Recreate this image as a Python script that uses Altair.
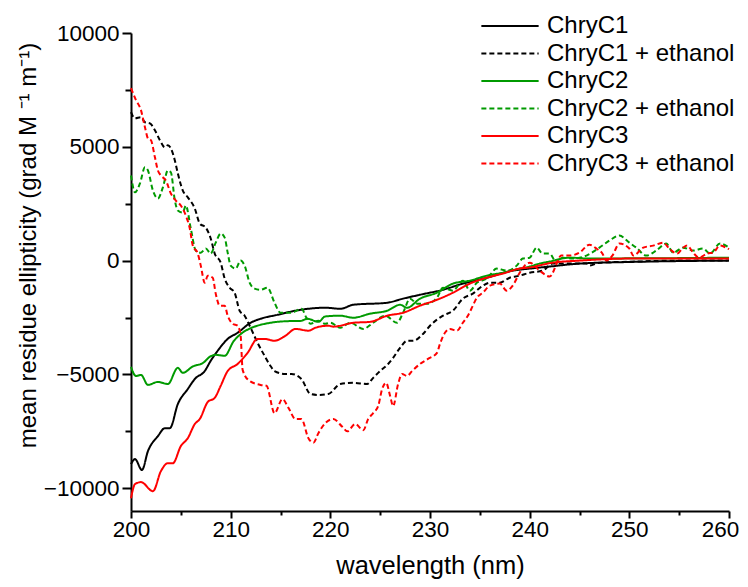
import altair as alt
import pandas as pd

# ---- data ----
series_names = ["ChryC1", "ChryC1 + ethanol", "ChryC2", "ChryC2 + ethanol", "ChryC3", "ChryC3 + ethanol"]
series_colors = ["#000000", "#000000", "#009a00", "#009a00", "#ff0000", "#ff0000"]
series_dashes = [[1, 0], [5, 3], [1, 0], [5, 3], [1, 0], [5, 3]]

c1_wl = [200, 200.4, 201.1, 201.7, 202.7, 203.4, 203.9, 204.7, 205.7, 206.4, 207.4, 208, 208.7, 209.7, 210.7,
         212, 213, 214.7, 216.5, 217.8, 219.5, 221, 222.3, 225.7, 227.3, 229, 231.3, 233.3, 235.7, 238.3, 240,
         242, 245, 250, 255, 260]
c1_val = [-8940, -8720, -9200, -8370, -7710, -7360, -7360, -6300, -5640, -5200, -4850, -4400, -3960, -3440, -3170,
          -2730, -2555, -2380, -2200, -2115, -2070, -2115, -1940, -1850, -1670, -1500, -1280, -1010, -750, -440, -350,
          -260, -130, -60, -20, 0]

c1e_wl = [200, 200.4, 201, 201.4, 201.9, 202.4, 202.9, 203.4, 203.7, 204, 204.4, 204.7, 205.2, 205.7, 206.4, 206.9,
          207.5, 208, 208.4, 209, 209.4, 209.9, 210.4, 210.9, 211.4, 212, 212.7, 213.4, 214, 214.4, 215.5, 216.1,
          217.1, 218, 218.8, 219.8, 221, 222.3, 223.7, 224.3, 225, 225.8, 226.3, 227, 227.7, 228.3, 229.3, 230,
          231.3, 232.3, 233.3, 234.3, 235.3, 236, 237, 238, 239, 240, 241.3, 242.3, 244, 245.7, 246, 247, 250,
          255, 260]
c1e_val = [6520, 6250, 6300, 6080, 6030, 5730, 5290, 4980, 5070, 4930, 4400, 3830, 3080, 2780, 2290, 1630,
           1450, 970, 310, -90, -790, -1190, -1410, -2200, -2420, -2950, -3610, -4180, -4630, -4850, -4980, -4980,
           -5200, -5860, -5900, -5860, -5420, -5370, -5420, -5150, -4850, -4540, -4270, -3830, -3520, -3520, -3220, -2860,
           -2420, -2200, -1670, -1450, -1100, -970, -970, -750, -660, -530, -440, -130, -130, -130, -220, -90, -50,
           0, 0]

c2_wl = [200, 200.5, 201, 201.7, 202.7, 203.7, 204.7, 205.2, 206.2, 207.2, 208, 208.5, 209.4, 210.3, 211, 212.1,
         213, 214, 215.7, 217, 217.7, 218.8, 219.5, 221, 222.3, 224, 225.7, 227, 227.7, 229, 230.7, 232.3, 234,
         235.7, 237.3, 239, 240, 241, 242, 244, 246, 250, 255, 260]
c2_val = [-4670, -5070, -5020, -5460, -5330, -5420, -4710, -4930, -4650, -4500, -4200, -4140, -4180, -3540, -3230, -2950,
          -2820, -2730, -2660, -2650, -2555, -2690, -2450, -2420, -2510, -2330, -2200, -1940, -2070, -1670, -1410, -1010, -880,
          -660, -530, -350, -260, -130, -40, 130, 90, 100, 110, 130]

c2e_wl = [200, 200.4, 200.9, 201.4, 201.7, 202.2, 202.7, 203.2, 203.7, 204, 204.4, 204.7, 205.2, 205.5, 206, 206.5,
          207, 207.5, 208, 208.5, 209, 209.4, 209.7, 210, 210.5, 211, 211.4, 211.9, 212.4, 213, 213.7, 214.4, 215,
          216.1, 217.1, 217.6, 218, 218.8, 219.5, 220, 221, 222, 223.3, 224.3, 225.5, 226.7, 227.3, 228, 228.7,
          229.7, 230.7, 231.3, 232.3, 233.3, 234, 234.7, 235.7, 236.7, 237.7, 238.7, 239.3, 240, 240.7, 241.3, 242,
          242.7, 243.3, 244.3, 245.7, 247, 248, 249, 250, 250.7, 251.7, 252.7, 253.7, 254.4, 255.4, 256.4, 257.4,
          258.1, 259.1, 260]
c2e_val = [3740, 3000, 3390, 4100, 3960, 3080, 2730, 3220, 3960, 3880, 2640, 2200, 2110, 2420, 1410, 440,
           350, 530, 310, 790, 1190, 1010, 350, -220, -350, 0, -220, -970, -1230, -1280, -1190, -1850, -2290,
           -2290, -2115, -2510, -2775, -2640, -2775, -2730, -2950, -2730, -3000, -2730, -2420, -2730, -2290, -1670, -1890,
           -1890, -1630, -1190, -1320, -880, -1320, -970, -790, -350, -440, -220, 90, 130, 570, 310, 310,
           -90, 130, 90, 220, 570, 880, 1100, 790, 570, 220, 440, 750, 350, 570, 440, 530,
           310, 750, 570]

c3_wl = [200, 200.4, 201, 202.2, 203, 203.7, 204.2, 205, 205.7, 206.4, 206.9, 207.7, 208.4, 209, 209.7, 210.7,
         211.7, 212.7, 213.4, 214.4, 215.5, 216.5, 217.8, 218.5, 219.8, 220.3, 222.3, 224, 225.7, 227.3, 229, 230.7,
         232.3, 234, 235.7, 237.3, 239, 240, 242.3, 245, 250, 255, 260]
c3_val = [-10440, -9820, -9730, -10130, -9250, -8900, -8900, -8150, -7800, -7180, -6960, -6210, -6030, -5500, -4850, -4540,
          -4050, -3440, -3440, -3520, -3300, -3000, -3080, -2950, -2860, -2900, -2730, -2690, -2420, -2290, -1980, -1720,
          -1410, -1010, -750, -570, -350, -300, -90, 0, 90, 90, 90]

c3e_wl = [200, 200.5, 201, 201.4, 201.7, 202, 202.4, 202.7, 203, 203.5, 204, 204.5, 205, 205.5, 205.9, 206.2,
          206.7, 207, 207.4, 207.7, 208.2, 208.5, 208.9, 209.4, 209.7, 210.2, 210.7, 211, 211.2, 211.9, 213, 213.6,
          214.4, 215.2, 215.8, 216.5, 217.1, 217.8, 218.3, 218.8, 219.5, 220.3, 221.2, 221.7, 222.5, 223.3, 223.8,
          224.3, 224.8, 225.2, 225.6, 226, 226.3, 226.8, 227.2, 227.7, 228.2, 229, 229.8, 230.7, 231, 231.5, 232,
          232.7, 233.3, 233.8, 234.3, 234.7, 235.3, 236, 237, 237.7, 238.3, 239, 239.5, 240, 241, 242, 243.2, 244,
          245, 246, 246.7, 247.3, 247.7, 248.3, 249, 250, 250.4, 251.4, 252.4, 253.4, 254, 254.8, 255.4, 255.8,
          256.4, 257, 257.8, 258.4, 259.1, 259.7, 260]
c3e_val = [7580, 7050, 6610, 5860, 5370, 5290, 4540, 3960, 3740, 3520, 2950, 2640, 2420, 1980, 1410, 660,
           310, -220, -970, -660, -750, -1450, -1980, -1980, -2420, -2775, -2860, -3300, -4800, -5290, -5460, -5500,
           -6700, -6080, -6470, -6960, -6960, -7800, -8000, -7580, -7140, -6960, -7300, -7500, -7180, -7450, -6960,
           -6700, -6390, -5640, -5370, -5950, -6390, -5420, -4980, -5070, -4850, -4540, -4320, -4050, -3660, -3170, -3000,
           -3080, -2730, -2420, -1980, -1630, -1410, -1100, -1010, -1320, -1100, -530, -220, -90, -440, -700, 220, 220,
           350, 700, 530, 310, 0, 220, 750, 530, 220, 570, 660, 790, 530, 310, 570, 660,
           350, 130, 310, 350, 660, 570, 500]

wl_lists = [c1_wl, c1e_wl, c2_wl, c2e_wl, c3_wl, c3e_wl]
val_lists = [c1_val, c1e_val, c2_val, c2e_val, c3_val, c3e_val]

x_ticks = list(range(200, 261, 5))
y_ticks = list(range(-10000, 10001, 2500))

rows = []
for name, wls, vals in zip(series_names, wl_lists, val_lists):
    for i, (w, v) in enumerate(zip(wls, vals)):
        rows.append({"series": name, "wavelength": w, "mre": v, "order": i})
df = pd.DataFrame(rows)

FONT = "Liberation Sans"

chart = alt.Chart(df).mark_line(strokeWidth=2, interpolate="monotone").encode(
    x=alt.X("wavelength:Q",
            scale=alt.Scale(domain=[200, 260], nice=False, zero=False),
            axis=alt.Axis(title="wavelength (nm)", values=x_ticks,
                          labelExpr="datum.value % 10 === 0 ? datum.label : ''",
                          tickSize={"condition": {"test": "datum.value % 10 === 0", "value": 7}, "value": 4},
                          labelOffset={"condition": {"test": "datum.value === 260", "value": -9}, "value": 0},
                          format="d", grid=False, labelFlush=False, labelPadding=0, titlePadding=13,
                          titleFontSize=25.5)),
    y=alt.Y("mre:Q",
            scale=alt.Scale(domain=[-11000, 10000], nice=False, zero=False),
            axis=alt.Axis(title="mean residue ellipticity (grad M ⁻¹ m⁻¹)", values=y_ticks,
                          labelExpr="datum.value % 5000 === 0 ? datum.label : ''",
                          tickSize={"condition": {"test": "datum.value % 5000 === 0", "value": 9}, "value": 6},
                          format="d", grid=False, labelFlush=False, labelPadding=3,
                          titleFontSize=24, titleX=-91, titleY=212)),
    color=alt.Color("series:N", scale=alt.Scale(domain=series_names, range=series_colors),
                    legend=alt.Legend(title=None)),
    strokeDash=alt.StrokeDash("series:N", scale=alt.Scale(domain=series_names, range=series_dashes),
                              legend=alt.Legend(title=None)),
    detail="series:N",
    order="order:Q",
).properties(
    width=598, height=478,
    autosize=alt.AutoSizeParams(type="none"),
    padding={"left": 123, "top": 25, "right": 11, "bottom": 68},
).configure_view(
    stroke=None
).configure_axis(
    labelFont=FONT, titleFont=FONT, labelFontSize=22.5,
    titleFontWeight="normal", labelColor="black", titleColor="black",
    domainColor="black", tickColor="black", domainWidth=2, tickWidth=2,
).configure_legend(
    orient="none", legendX=367, legendY=-19, padding=0,
    labelFont=FONT, labelFontSize=24, labelColor="black", labelLimit=0,
    symbolType="M-4,0H4", symbolSize=205, symbolStrokeWidth=2,
    labelOffset=25, rowPadding=3.5,
)

chart.save("out.html", embed_options={"renderer": "svg", "actions": False})
